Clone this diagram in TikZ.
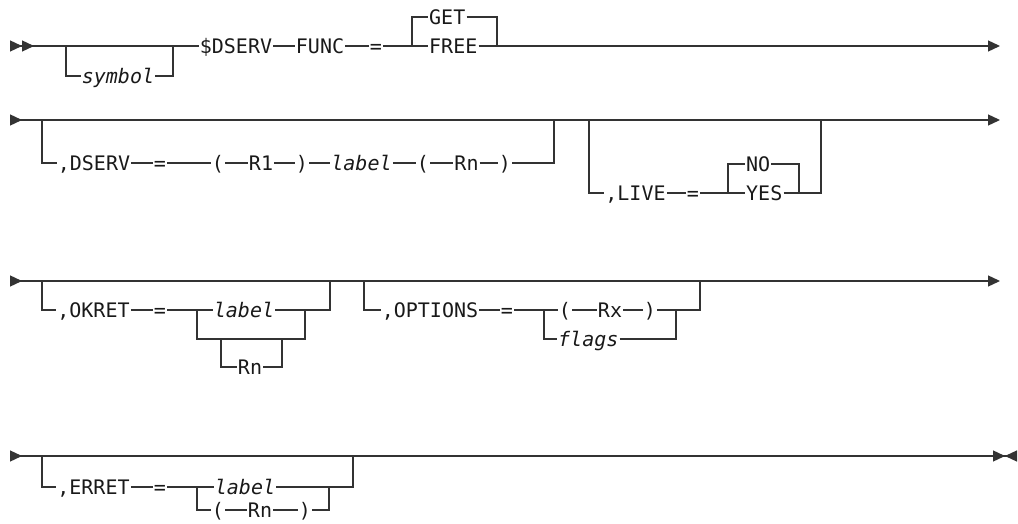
\documentclass[tikz,border=0pt]{standalone}
\usepackage{fontspec}
\newfontfamily\railfont{DejaVu Sans Mono}
\usetikzlibrary{arrows.meta}

\begin{document}
\begin{tikzpicture}[x=1pt, y=-1pt,
  tok/.style={font=\railfont\fontsize{20}{20}\selectfont, text=black!90, inner xsep=1pt, inner ysep=0pt, text height=14.5pt, text depth=0pt},
  var/.style={tok, font=\railfont\itshape\fontsize{20}{20}\selectfont},
  rail/.style={draw=black!80, line width=1.3pt},
  begin2/.style={arrows={{Triangle[length=12pt,width=11pt,reversed]Triangle[length=12pt,width=11pt,reversed]}-}},
  cont/.style={arrows={-{Triangle[length=12pt,width=11pt]}}},
  through/.style={arrows={{Triangle[length=12pt,width=11pt,reversed]}-{Triangle[length=12pt,width=11pt]}}},
  stop/.style={arrows={{Triangle[length=12pt,width=11pt,reversed]}-{Triangle[length=12pt,width=11pt]Triangle[length=12pt,width=11pt,reversed]}}}
]
\useasboundingbox (0,0) rectangle (1018,524);

% row 1
\coordinate (r1a) at (10,46);
\coordinate (r1b) at (1000,46);
\coordinate (syL) at (66,46);
\coordinate (syR) at (173,46);
\coordinate (fnL) at (412,46);
\coordinate (fnR) at (497,46);
\node[tok] (dserv) at (236,46) {\$DSERV};
\node[tok] (func) at (320,46) {FUNC};
\node[tok] (eq1) at (376,46) {=};
\node[tok, anchor=west] (get) at (428,17) {GET};
\node[tok, anchor=west] (free) at (428,46) {FREE};
\node[var] (symbol) at (118,76) {symbol};
\draw[rail, begin2] (r1a) -- (dserv);
\draw[rail] (syL) |- (symbol) -| (syR);
\draw[rail] (dserv) -- (func) -- (eq1) -- (free);
\draw[rail, cont] (free) -- (r1b);
\draw[rail] (fnL) |- (get) -| (fnR);

% row 2
\coordinate (r2a) at (10,120);
\coordinate (r2b) at (1000,120);
\coordinate (dsL) at (42,120);
\coordinate (dsR) at (554,120);
\coordinate (lvL) at (589,120);
\coordinate (lvR) at (821,120);
\coordinate (yesL) at (728,193);
\coordinate (yesR) at (799,193);
\draw[rail, through] (r2a) -- (r2b);
\node[tok] (cdserv) at (94,163) {,DSERV};
\node[tok] (eq2) at (160,163) {=};
\node[tok] (lp1) at (218,163) {(};
\node[tok] (r1) at (261,163) {R1};
\node[tok] (rp1) at (302,163) {)};
\node[var] (lbl1) at (361.5,163) {label};
\node[tok] (lp2) at (423,163) {(};
\node[tok] (rn1) at (466.5,163) {Rn};
\node[tok] (rp2) at (505,163) {)};
\draw[rail] (dsL) |- (cdserv) -- (eq2) -- (lp1) -- (r1) -- (rp1) -- (lbl1) -- (lp2) -- (rn1) -- (rp2) -| (dsR);
\node[tok] (clive) at (635.5,193) {,LIVE};
\node[tok] (eq3) at (693,193) {=};
\node[tok, anchor=west] (no) at (745,164) {NO};
\node[tok, anchor=west] (yes) at (745,193) {YES};
\draw[rail] (lvL) |- (clive) -- (eq3) -- (yes) -| (lvR);
\draw[rail] (yesL) |- (no) -| (yesR);

% row 3
\coordinate (r3a) at (10,281);
\coordinate (r3b) at (1000,281);
\coordinate (okL) at (42,281);
\coordinate (okR) at (330,281);
\coordinate (okcL) at (197,310);
\coordinate (okcR) at (305,310);
\coordinate (okaR) at (305,339);
\coordinate (rnL) at (221,339);
\coordinate (rnR) at (282,339);
\coordinate (opL) at (364,281);
\coordinate (opR) at (700,281);
\coordinate (opcL) at (544,310);
\coordinate (opcR) at (676,310);
\draw[rail, through] (r3a) -- (r3b);
\node[tok] (cokret) at (93.5,310) {,OKRET};
\node[tok] (eq4) at (160,310) {=};
\node[var] (lbl2) at (244,310) {label};
\node[tok] (rn2) at (250,367) {Rn};
\draw[rail] (okL) |- (cokret) -- (eq4) -- (lbl2) -| (okR);
\draw[rail] (okcL) |- (okaR) -- (okcR);
\draw[rail] (rnL) |- (rn2) -| (rnR);
\node[tok] (coptions) at (430,310) {,OPTIONS};
\node[tok] (eq5) at (507,310) {=};
\node[tok] (lp3) at (565,310) {(};
\node[tok] (rx) at (610,310) {Rx};
\node[tok] (rp3) at (650,310) {)};
\node[var, anchor=west] (flags) at (557,339) {flags};
\draw[rail] (opL) |- (coptions) -- (eq5) -- (lp3) -- (rx) -- (rp3) -| (opR);
\draw[rail] (opcL) |- (flags) -| (opcR);

% row 4
\coordinate (r4a) at (10,456);
\coordinate (r4b) at (1017,456);
\coordinate (erL) at (42,456);
\coordinate (erR) at (353,456);
\coordinate (ercL) at (197,487);
\coordinate (ercR) at (329,487);
\draw[rail, stop] (r4a) -- (r4b);
\node[tok] (cerret) at (93.5,487) {,ERRET};
\node[tok] (eq6) at (160,487) {=};
\node[var] (lbl3) at (245,487) {label};
\node[tok] (lp4) at (218,510) {(};
\node[tok] (rn3) at (260,510) {Rn};
\node[tok] (rp4) at (305,510) {)};
\draw[rail] (erL) |- (cerret) -- (eq6) -- (lbl3) -| (erR);
\draw[rail] (ercL) |- (lp4) -- (rn3) -- (rp4) -| (ercR);
\end{tikzpicture}
\end{document}
